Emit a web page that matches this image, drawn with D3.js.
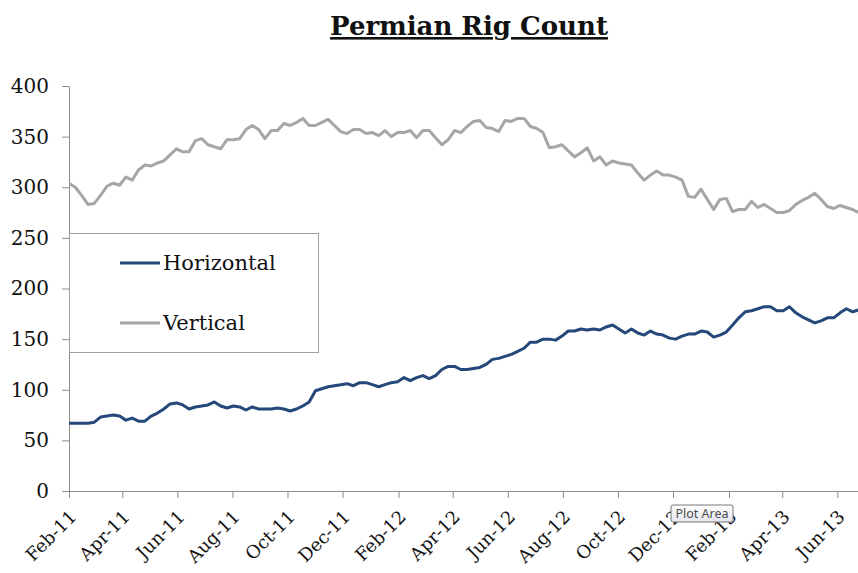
<!DOCTYPE html>
<html>
<head>
<meta charset="utf-8">
<script src="https://cdn.jsdelivr.net/npm/d3@7"></script>
<style>
  body { margin: 0; background: #fff; }
  svg { display: block; }
</style>
</head>
<body>
<svg class="Chart"></svg>
<script>

// weekly rig counts, first week ending Fri 4 Feb 2011
const firstWeek = '2011-02-04';
const seriesNames = ['Horizontal', 'Vertical'];
const horizontal = [
    67, 67, 67, 67, 68, 73, 74, 75, 74, 70,
    72, 69, 69, 74, 77, 81, 86, 87, 85, 81,
    83, 84, 85, 88, 84, 82, 84, 83, 80, 83,
    81, 81, 81, 82, 81, 79, 81, 84, 88, 99,
    101, 103, 104, 105, 106, 104, 107, 107, 105, 103,
    105, 107, 108, 112, 109, 112, 114, 111, 114, 120,
    123, 123, 120, 120, 121, 122, 125, 130, 131, 133,
    135, 138, 141, 147, 147, 150, 150, 149, 153, 158,
    158, 160, 159, 160, 159, 162, 164, 160, 156, 160,
    156, 154, 158, 155, 154, 151, 150, 153, 155, 155,
    158, 157, 152, 154, 157, 164, 171, 177, 178, 180,
    182, 182, 178, 178, 182, 176, 172, 169, 166, 168,
    171, 171, 176, 180, 177, 179
];
const vertical = [
    304, 300, 292, 283, 284, 292, 301, 304, 302, 310,
    307, 317, 322, 321, 324, 326, 332, 338, 335, 335,
    346, 348, 342, 340, 338, 347, 347, 348, 357, 361,
    357, 348, 356, 356, 363, 361, 364, 368, 361, 361,
    364, 367, 361, 355, 353, 357, 357, 353, 354, 351,
    356, 350, 354, 354, 356, 349, 356, 356, 349, 342,
    347, 356, 354, 360, 365, 366, 359, 358, 355, 366,
    365, 368, 368, 360, 358, 354, 339, 340, 342, 336,
    330, 334, 339, 326, 330, 322, 326, 324, 323, 322,
    314, 307, 312, 316, 312, 312, 310, 307, 291, 290,
    298, 288, 278, 288, 289, 276, 278, 278, 286, 280,
    283, 279, 275, 275, 277, 283, 287, 290, 294, 288,
    281, 279, 282, 280, 278, 275
];
const yTicks = [0, 50, 100, 150, 200, 250, 300, 350, 400];
const monthStep = 2;
const tickCount = 15;

const width = 858;
const height = 573;
const margin = { top: 86, right: 0, bottom: 82, left: 69 };
const colors = { Horizontal: '#24487a', Vertical: '#a6a6a6' };
const axisColor = '#8c8c8c';
const serif = '"DejaVu Serif", Georgia, serif';

const start = d3.isoParse(firstWeek + 'T00:00:00');
const weeks = horizontal.map((d, i) => d3.timeDay.offset(start, 7 * i));
const series = seriesNames.map(name => ({
    name: name,
    values: (name === 'Horizontal' ? horizontal : vertical).map((v, i) => ({ date: weeks[i], value: v })),
}));

const svg = d3.select('.Chart')
    .attr('width', width)
    .attr('height', height);

const x = d3.scaleTime()
    .domain([start, d3.timeDay.offset(start, 875)])
    .range([margin.left, 859]);

const y = d3.scaleLinear()
    .domain([0, 400])
    .range([height - margin.bottom, margin.top]);

// title
svg.append('text')
    .attr('x', 469)
    .attr('y', 35)
    .attr('text-anchor', 'middle')
    .attr('font-family', serif)
    .attr('font-weight', 'bold')
    .attr('font-size', 26)
    .attr('text-decoration', 'underline')
    .attr('fill', '#111')
    .text('Permian Rig Count');

// y axis
const yAxis = svg.append('g')
    .attr('transform', `translate(${margin.left},0)`)
    .call(d3.axisLeft(y).tickValues(yTicks).tickSize(7).tickPadding(13).tickSizeOuter(0));
yAxis.select('.domain').attr('stroke', axisColor);
yAxis.selectAll('.tick line').attr('stroke', axisColor);
yAxis.selectAll('.tick text')
    .attr('font-family', serif)
    .attr('font-size', 20)
    .attr('fill', '#111');

// x axis, date ticks every two months
const xTickValues = d3.range(tickCount).map(k => d3.timeMonth.offset(start, monthStep * k));
const xAxis = svg.append('g')
    .attr('transform', `translate(0,${height - margin.bottom})`)
    .call(d3.axisBottom(x).tickValues(xTickValues).tickFormat(d3.timeFormat('%b-%y')).tickSize(7).tickSizeOuter(0));
xAxis.select('.domain').attr('stroke', axisColor);
xAxis.selectAll('.tick line').attr('stroke', axisColor);
xAxis.selectAll('.tick text')
    .attr('font-family', serif)
    .attr('font-size', 18)
    .attr('fill', '#111')
    .attr('text-anchor', 'end')
    .attr('y', 0)
    .attr('dy', 0)
    .attr('transform', 'translate(8,27) rotate(-45)');

// lines
const line = d3.line()
    .x(d => x(d.date))
    .y(d => y(d.value));

svg.append('clipPath')
    .attr('id', 'plot-clip')
    .append('rect')
    .attr('x', margin.left)
    .attr('y', 0)
    .attr('width', width - margin.left)
    .attr('height', height - margin.bottom);

svg.append('g')
    .attr('clip-path', 'url(#plot-clip)')
    .selectAll('path.series')
    .data(series.slice().reverse())
    .join('path')
    .attr('class', 'series')
    .attr('d', d => line(d.values))
    .attr('fill', 'none')
    .attr('stroke', d => colors[d.name])
    .attr('stroke-width', 3)
    .attr('stroke-linejoin', 'round');

// legend box sits on top of the lines
const legend = svg.append('g');
legend.append('rect')
    .attr('x', 69.5)
    .attr('y', 233.5)
    .attr('width', 249)
    .attr('height', 119)
    .attr('fill', '#fff')
    .attr('stroke', '#a0a0a0')
    .attr('stroke-width', 1);

const legendItems = legend.selectAll('g.item')
    .data(seriesNames)
    .join('g')
    .attr('class', 'item')
    .attr('transform', (d, i) => `translate(120,${263 + i * 60})`);

legendItems.append('line')
    .attr('x1', 0)
    .attr('x2', 40)
    .attr('stroke', d => colors[d])
    .attr('stroke-width', 3);

legendItems.append('text')
    .attr('x', 43)
    .attr('dy', '0.35em')
    .attr('font-family', serif)
    .attr('font-size', 21)
    .attr('fill', '#111')
    .text(d => d);

// the hover tip that was showing in the screenshot
const tip = svg.append('g').attr('transform', 'translate(671,505)');
const tipGrad = svg.append('defs').append('linearGradient')
    .attr('id', 'tip-grad')
    .attr('x1', 0).attr('y1', 0).attr('x2', 0).attr('y2', 1);
tipGrad.append('stop').attr('offset', '0%').attr('stop-color', '#ffffff');
tipGrad.append('stop').attr('offset', '100%').attr('stop-color', '#e4e5f0');
tip.append('rect')
    .attr('width', 62)
    .attr('height', 17)
    .attr('rx', 2)
    .attr('fill', 'url(#tip-grad)')
    .attr('stroke', '#767676');
tip.append('text')
    .attr('x', 31)
    .attr('y', 13)
    .attr('text-anchor', 'middle')
    .attr('font-family', '"Noto Sans", "DejaVu Sans", sans-serif')
    .attr('font-size', 12.5)
    .attr('fill', '#4c4c4c')
    .text('Plot Area');

</script>
</body>
</html>
